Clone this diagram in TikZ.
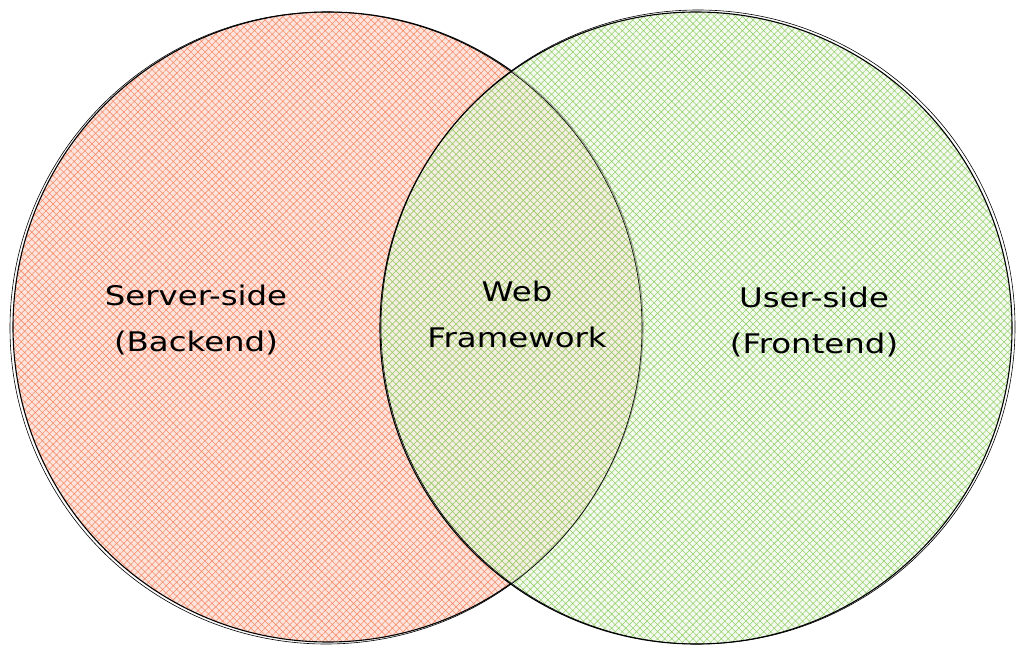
\documentclass[tikz,border=0pt]{standalone}
\usepackage{fontspec}
\setsansfont[FakeStretch=1.2]{DejaVu Sans}
\usepackage{xcolor}
\usepackage{tikz}
\usetikzlibrary{patterns.meta}
\definecolor{backred}{RGB}{245,120,80}
\definecolor{frontgreen}{RGB}{130,200,80}
\tikzstyle{setcircle} = [circle, inner sep=0pt, draw=black, line width=1.1pt]
\tikzstyle{backfill} = [preaction={fill=backred!20}, pattern={Hatch[angle=45,distance=5pt,line width=0.55pt]}, pattern color=backred!85]
\tikzstyle{frontfill} = [preaction={fill=frontgreen!14, fill opacity=0.6}, pattern={Hatch[angle=45,distance=5pt,line width=0.55pt]}, pattern color=frontgreen!85]
\tikzstyle{sketch} = [draw=black, line width=0.6pt]
\tikzstyle{settext} = [align=center, text=black, font=\sffamily\fontsize{27}{46}\selectfont]

\begin{document}
\begin{tikzpicture}[x=1pt,y=-1pt]
	\useasboundingbox (0,0) rectangle (1024,660);
	\node (back) [setcircle, backfill, minimum size=630pt] at (328,327) {};
	\node (front) [setcircle, frontfill, minimum size=632pt] at (696,328) {};

	% second stroke, sketchy look
	\draw [sketch] (back.center) ++(-2,1) circle (316);
	\draw [sketch] (front.center) ++(2,-1) circle (317);

	\node (backtext) [settext] at (196,320) {Server-side\\(Backend)};
	\node (webtext) [settext] at (517,314) {Web\\Framework};
	\node (fronttext) [settext] at (814,322) {User-side\\(Frontend)};
\end{tikzpicture}
\end{document}
